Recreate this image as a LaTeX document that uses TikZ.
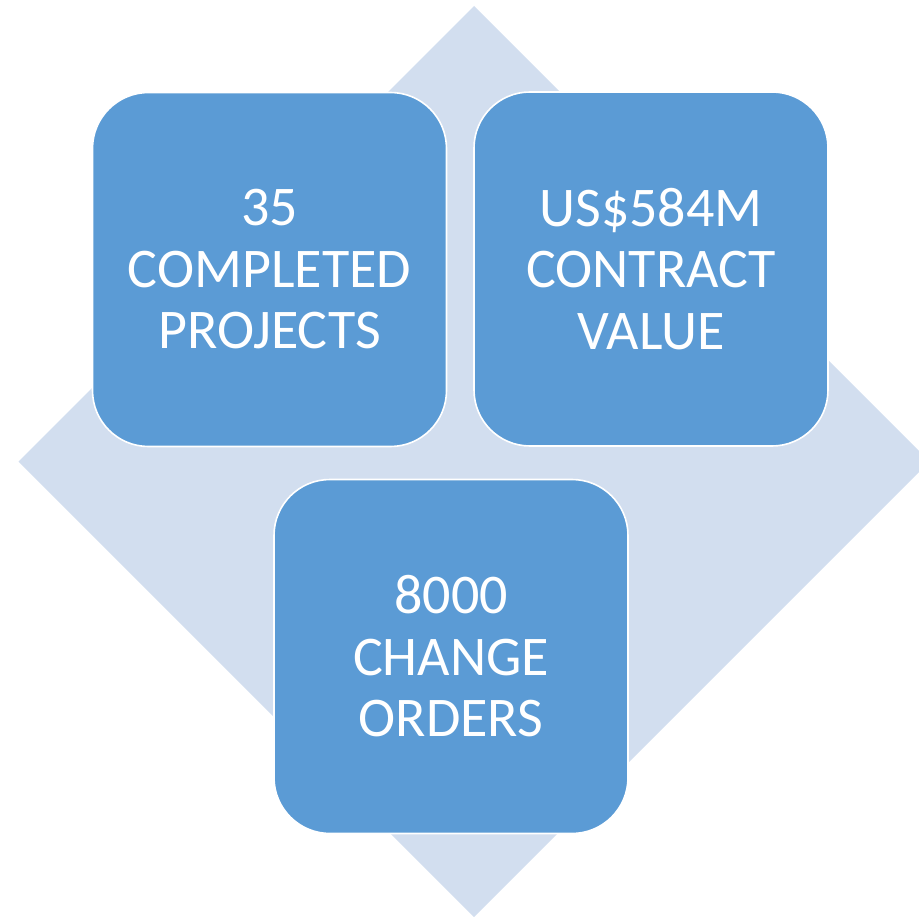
\documentclass[tikz,border=0pt]{standalone}
\usepackage{fontspec}
\setmainfont{Carlito}
\definecolor{boxblue}{HTML}{5B9BD5}
\definecolor{diamondblue}{HTML}{D2DEEF}
\tikzset{
  statbox/.style={draw=white, line width=1.6pt, fill=boxblue, rounded corners=56pt,
    minimum width=354pt, minimum height=354pt, inner sep=0pt,
    align=center, text=white, font=\fontsize{56}{61.5}\selectfont},
  backdiamond/.style={fill=diamondblue}
}
\begin{document}
\begin{tikzpicture}[x=1pt,y=-1pt]
\useasboundingbox (0,0) rectangle (919,917);
\fill[backdiamond] (474,6) -- (929.5,461.5) -- (474,917) -- (18.5,461.5) -- cycle;
\node[statbox] (projects) at (269.5,269.5) {35\\COMPLETED\\PROJECTS};
\node[statbox] (contract) at (651,269) {US\$584M\\CONTRACT\\VALUE};
\node[statbox] (orders) at (451,656.5) {8000\\CHANGE\\ORDERS};
\end{tikzpicture}
\end{document}
